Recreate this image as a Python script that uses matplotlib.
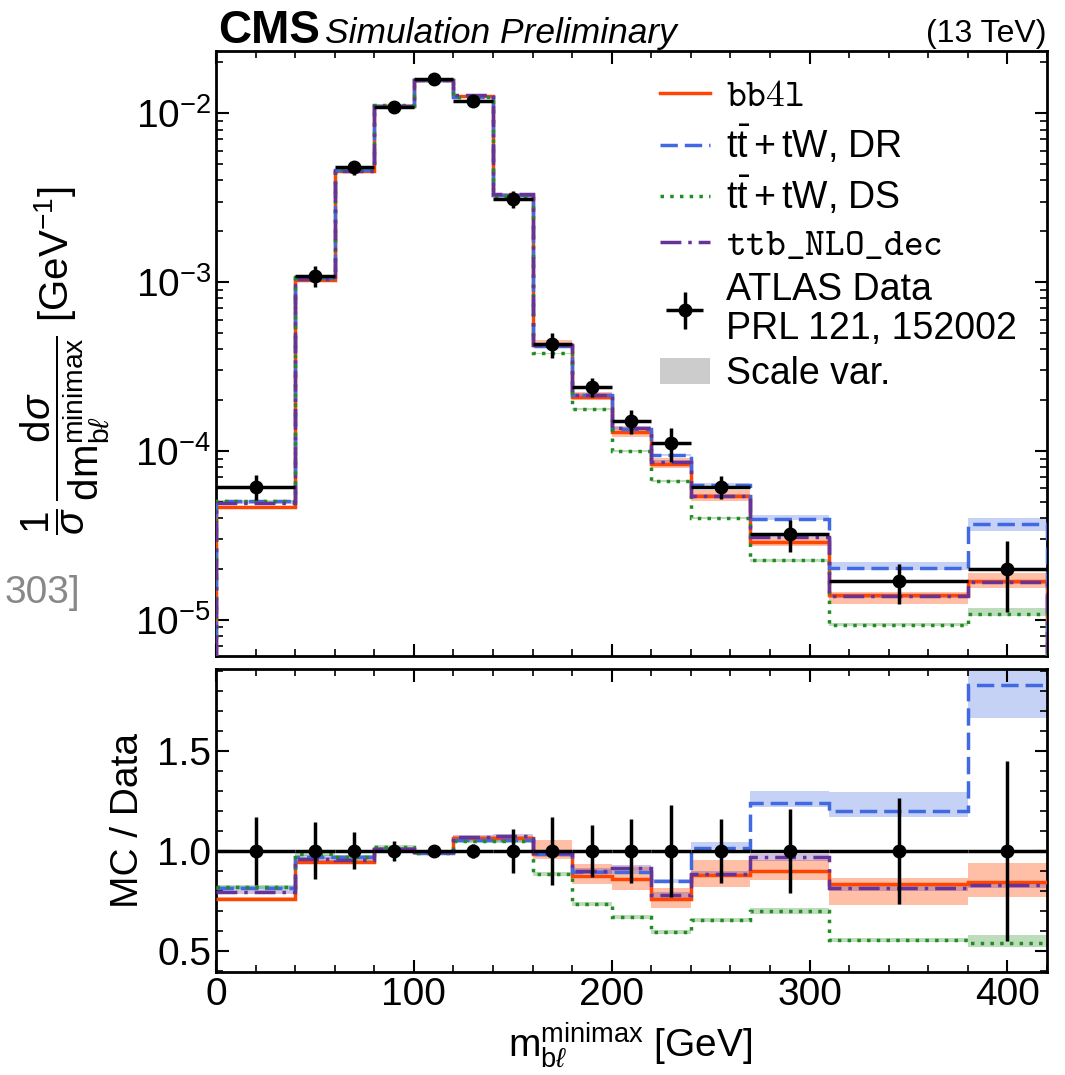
import numpy as np
import matplotlib
matplotlib.use("Agg")
import matplotlib.pyplot as plt
from matplotlib.lines import Line2D
from matplotlib.patches import Patch
from matplotlib.ticker import MultipleLocator, LogLocator, NullFormatter

# binning of m_bl^minimax [GeV]
edges = [0, 40, 60, 80, 100, 120, 140, 160, 180, 200, 220, 240, 270, 310, 380, 420]

# ATLAS data (normalised) and relative uncertainty
data_x = [20, 50, 70, 90, 110, 130, 150, 170, 190, 210, 230, 255, 290, 345, 400]
data_y = [6.15e-5, 1.094e-3, 4.78e-3, 1.096e-2, 1.59e-2, 1.19e-2, 3.10e-3,
          4.28e-4, 2.40e-4, 1.50e-4, 1.11e-4, 6.15e-5, 3.21e-5, 1.69e-5, 2.01e-5]
data_relerr = [0.172, 0.143, 0.093, 0.05, 0.01, 0.033, 0.11, 0.17, 0.13,
               0.16, 0.23, 0.16, 0.21, 0.265, 0.45]

# MC / Data ratios with scale-variation band (lo, hi)
bb4l_ratio = [0.76, 0.945, 0.947, 1.008, 0.997, 1.064, 1.064, 0.987, 0.875,
              0.857, 0.758, 0.88, 0.90, 0.833, 0.846]
bb4l_lo = [0.75, 0.935, 0.94, 1.0, 0.99, 1.055, 1.055, 0.958, 0.835,
           0.805, 0.713, 0.821, 0.855, 0.729, 0.771]
bb4l_hi = [0.77, 0.955, 0.955, 1.015, 1.005, 1.073, 1.073, 1.055, 0.935,
           0.921, 0.813, 0.955, 0.955, 0.863, 0.938]

dr_ratio = [0.816, 0.971, 0.968, 1.012, 0.992, 1.056, 1.056, 0.983, 0.895,
            0.895, 0.851, 1.017, 1.239, 1.202, 1.832]
dr_lo = [0.806, 0.961, 0.958, 1.002, 0.982, 1.046, 1.046, 0.973, 0.885,
         0.885, 0.841, 1.01, 1.222, 1.172, 1.665]
dr_hi = [0.826, 0.981, 0.978, 1.022, 1.002, 1.066, 1.066, 0.993, 0.905,
         0.905, 0.861, 1.047, 1.302, 1.294, 2.0]

ds_ratio = [0.821, 0.985, 0.97, 1.02, 0.992, 1.05, 1.05, 0.883, 0.736,
            0.669, 0.596, 0.654, 0.701, 0.554, 0.538]
ds_lo = [0.811, 0.975, 0.96, 1.01, 0.982, 1.04, 1.04, 0.873, 0.726,
         0.659, 0.586, 0.644, 0.685, 0.545, 0.52]
ds_hi = [0.831, 0.995, 0.98, 1.03, 1.002, 1.06, 1.06, 0.893, 0.746,
         0.679, 0.606, 0.664, 0.715, 0.563, 0.58]

ttb_ratio = [0.796, 0.958, 0.955, 1.012, 0.997, 1.072, 1.075, 0.99, 0.897,
             0.917, 0.778, 0.885, 0.968, 0.816, 0.83]
ttb_lo = [0.786, 0.948, 0.945, 1.002, 0.987, 1.062, 1.065, 0.975, 0.882,
          0.902, 0.763, 0.87, 0.95, 0.80, 0.815]
ttb_hi = [0.806, 0.968, 0.965, 1.022, 1.007, 1.082, 1.085, 1.005, 0.912,
          0.932, 0.793, 0.9, 0.985, 0.83, 0.845]

plt.rcParams["font.family"] = ["Liberation Sans", "DejaVu Sans"]
plt.rcParams["mathtext.fontset"] = "custom"
plt.rcParams["mathtext.rm"] = "Liberation Sans"
plt.rcParams["mathtext.it"] = "Liberation Sans:italic"
plt.rcParams["mathtext.bf"] = "Liberation Sans:bold"

FS = 28

fig = plt.figure(figsize=(10.65, 10.75), dpi=100)
ax = fig.add_axes([0.2028, 0.3898, 0.7803, 0.5628])
rax = fig.add_axes([0.2028, 0.0961, 0.7803, 0.2813])

edges = np.array(edges)
dy = np.array(data_y)
derr = np.array(data_relerr)
xerr = np.diff(edges) / 2

series = [
    ("bb4l", bb4l_ratio, bb4l_lo, bb4l_hi, "#FF4500", None, 0.35),
    ("dr", dr_ratio, dr_lo, dr_hi, "#4169E1", (5, 2), 0.3),
    ("ds", ds_ratio, ds_lo, ds_hi, "#228B22", (1, 1.8), 0.3),
    ("ttb", ttb_ratio, ttb_lo, ttb_hi, "#663399", (6, 2, 1, 2), 0.3),
]

for i, (name, r, lo, hi, col, dash, alpha) in enumerate(series):
    r = np.array(r)
    lo = np.array(lo)
    hi = np.array(hi)
    for a, scale, base in ((ax, dy, 0), (rax, np.ones_like(dy), None)):
        a.stairs(hi * scale, edges, baseline=lo * scale, fill=True,
                 color=col, alpha=alpha, lw=0, zorder=1 + i * 0.1)
        st = a.stairs(r * scale, edges, baseline=base, color=col, lw=2.5,
                      zorder=3 + i)
        if dash is not None:
            st.set_linestyle((0, dash))

eb = ax.errorbar(data_x, dy, yerr=dy * derr, xerr=xerr, fmt="o", color="black",
                 ms=9, elinewidth=2.5, capsize=0, zorder=10)
rax.errorbar(data_x, np.ones_like(dy), yerr=derr, xerr=xerr, fmt="o",
             color="black", ms=9, elinewidth=2.5, capsize=0, zorder=10)

ax.set_yscale("log")
ax.set_xlim(0, 420)
ax.set_ylim(6.1e-6, 2.34e-2)
rax.set_xlim(0, 420)
rax.set_ylim(0.395, 1.91)

for a in (ax, rax):
    a.xaxis.set_major_locator(MultipleLocator(100))
    a.xaxis.set_minor_locator(MultipleLocator(20))
    a.tick_params(which="both", direction="in", top=True, right=True,
                  labelsize=FS)
    a.tick_params(which="major", length=9, width=1.5)
    a.tick_params(which="minor", length=5, width=1.2)
    for s in a.spines.values():
        s.set_linewidth(2)

ax.yaxis.set_major_locator(LogLocator(base=10, numticks=10))
ax.yaxis.set_minor_locator(LogLocator(base=10, subs=np.arange(2, 10), numticks=20))
ax.yaxis.set_minor_formatter(NullFormatter())
ax.tick_params(labelbottom=False)

rax.yaxis.set_major_locator(MultipleLocator(0.5))
rax.yaxis.set_minor_locator(MultipleLocator(0.1))

# legend
handles = [
    Line2D([], [], color="#FF4500", lw=2.5),
    Line2D([], [], color="#4169E1", lw=2.5, ls=(0, (5, 2))),
    Line2D([], [], color="#228B22", lw=2.5, ls=(0, (1, 1.8))),
    Line2D([], [], color="#663399", lw=2.5, ls=(0, (6, 2, 1, 2))),
    eb,
    Patch(facecolor="#cccccc", edgecolor="none"),
]
labels = [
    r"$\mathtt{bb4l}$",
    r"$\mathrm{t\bar{t}}+\mathrm{tW}$, DR",
    r"$\mathrm{t\bar{t}}+\mathrm{tW}$, DS",
    r"$\mathtt{ttb\_NLO\_dec}$",
    "ATLAS Data\nPRL 121, 152002",
    "Scale var.",
]
leg = ax.legend(handles, labels, loc="upper left", bbox_to_anchor=(0.534, 0.955),
                frameon=False, fontsize=27, handlelength=1.33, handletextpad=0.45,
                labelspacing=0.25, borderpad=0, borderaxespad=0)
for t in (leg.get_texts()[0], leg.get_texts()[3]):
    t.set_math_fontfamily("cm")
leg.get_texts()[4].set_linespacing(1.1)

# labels
fig.text(0.062, 1 - 361 / 1075,
         r"$\dfrac{1}{\sigma}\,\dfrac{\mathrm{d}\sigma}{\mathrm{d}\mathrm{m}_{\mathrm{b}\ell}^{\mathrm{minimax}}}$ [GeV$^{-1}$]",
         rotation=90, ha="center", va="center", fontsize=29)
fig.text(0.12, 0.237, "MC / Data", rotation=90, ha="center", va="center",
         fontsize=FS)
fig.text(0.592, 0.028, r"$\mathrm{m}_{\mathrm{b}\ell}^{\mathrm{minimax}}$ [GeV]",
         ha="center", va="center", fontsize=FS)
fig.text(80 / 1065, 1 - 593 / 1075, "303]", ha="right", va="center",
         fontsize=FS, color="#888888")

fig.text(0.2047, 0.96, "CMS", fontsize=33, fontweight="bold", va="baseline")
fig.text(0.305, 0.96, "Simulation Preliminary", fontsize=25.5, style="italic",
         va="baseline")
fig.text(0.983, 0.961, "(13 TeV)", fontsize=23, ha="right", va="baseline")

fig.savefig("out.png", dpi=100)
